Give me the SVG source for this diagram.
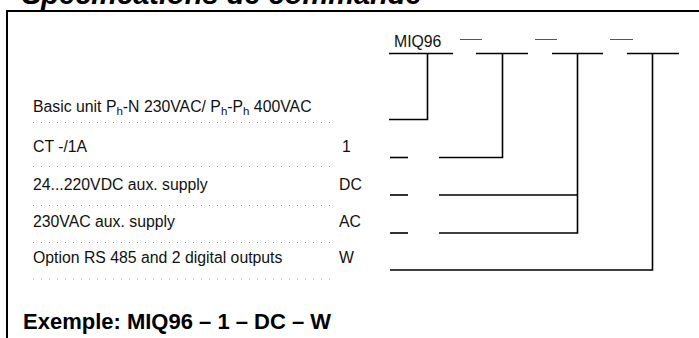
<svg xmlns="http://www.w3.org/2000/svg" width="699" height="338" viewBox="0 0 699 338">
<style>
.t{font-family:"Liberation Sans",Arial,sans-serif;font-size:15.8px;fill:#111}
.sub{font-size:11.5px}
.title{font-family:"Liberation Sans",Arial,sans-serif;font-size:29px;font-weight:bold;font-style:italic;fill:#000}
.ex{font-family:"Liberation Sans",Arial,sans-serif;font-size:22px;font-weight:bold;fill:#000}
.dots{stroke:#8a8a8a;stroke-width:1;stroke-dasharray:1 7;fill:none}
.ln{stroke:#000;stroke-width:1.6;fill:none}
.th{stroke:#555;stroke-width:1;fill:none}
</style>
<rect width="699" height="338" fill="#fff"/>
<text class="title" x="22" y="4">Spécifications de commande</text>
<path d="M7 338V11H699" stroke="#000" stroke-width="2" fill="none"/>
<g id="code">
<text class="t" x="394" y="46.5">MIQ96</text>
<path class="th" d="M460 39.5H482M535 39.5H557M610 39.5H633"/>
</g>
<g id="row-basic">
<text class="t" x="33" y="112">Basic unit P<tspan class="sub" dy="3">h</tspan><tspan dy="-3">-N 230VAC/ P</tspan><tspan class="sub" dy="3">h</tspan><tspan dy="-3">-P</tspan><tspan class="sub" dy="3">h</tspan><tspan dy="-3"> 400VAC</tspan></text>
<path class="dots" d="M33 122.5H334"/>
</g>
<g id="row-ct">
<text class="t" x="33" y="152">CT -/1A</text>
<text class="t" x="342" y="152">1</text>
<path class="dots" d="M33 166.5H334"/>
<path class="ln" d="M390 157.5H408"/>
</g>
<g id="row-dc">
<text class="t" x="339" y="190">DC</text>
<text class="t" x="33" y="190">24...220VDC aux. supply</text>
<path class="dots" d="M33 205.5H334"/>
<path class="ln" d="M390 195H408"/>
</g>
<g id="row-ac">
<text class="t" x="33" y="227">230VAC aux. supply</text>
<text class="t" x="339" y="227">AC</text>
<path class="dots" d="M33 242.5H334"/>
<path class="ln" d="M390 233H408"/>
</g>
<g id="row-w">
<text class="t" x="33" y="263">Option RS 485 and 2 digital outputs</text>
<text class="t" x="339" y="263">W</text>
<path class="dots" d="M33 279H334"/>
</g>
<g id="connectors">
<path class="ln" d="M389 53.5H453M427.5 53.5V119.5H389"/>
<path class="ln" d="M476 53.5H528M502.5 53.5V157.5H439"/>
<path class="ln" d="M552 53.5H603M577.5 53.5V233H439M577.5 195H439"/>
<path class="ln" d="M627 53.5H679M652.5 53.5V270H390"/>
</g>
<text class="ex" x="23" y="329">Exemple: MIQ96 – 1 – DC – W</text>
</svg>
